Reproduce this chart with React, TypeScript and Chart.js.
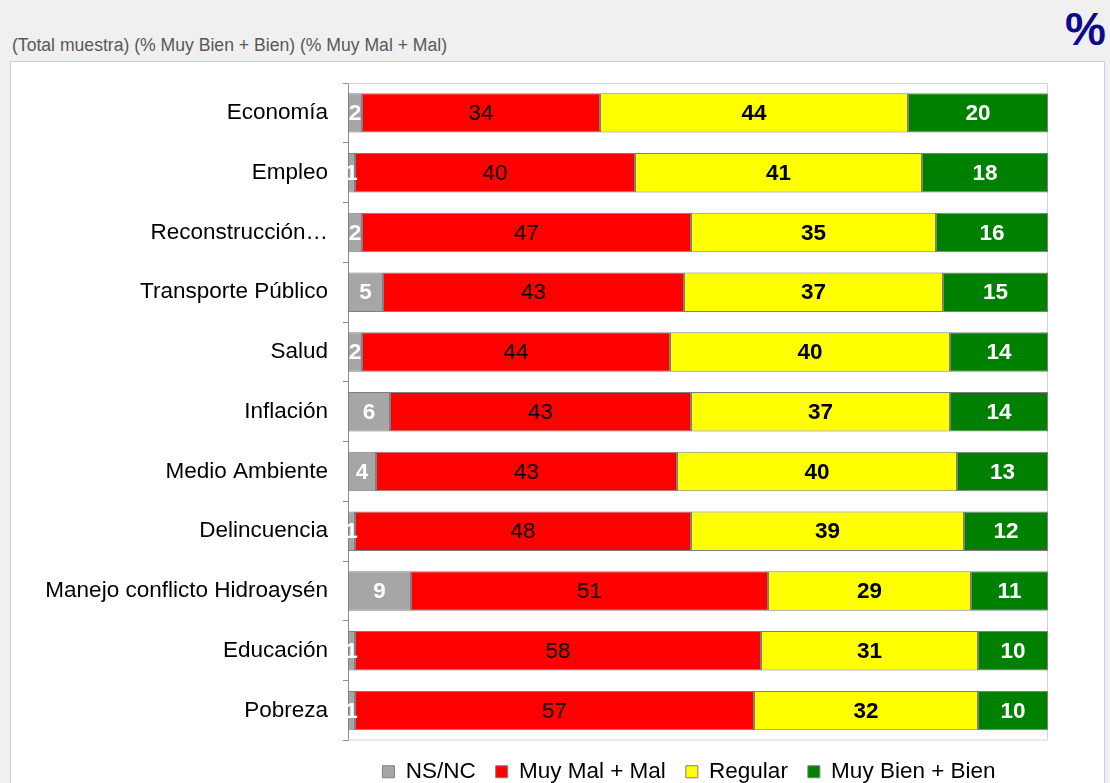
import React, { useEffect, useRef } from 'react';
import { Chart, registerables } from 'chart.js';

Chart.register(...registerables);

const categories = [
  'Economía',
  'Empleo',
  'Reconstrucción…',
  'Transporte Público',
  'Salud',
  'Inflación',
  'Medio Ambiente',
  'Delincuencia',
  'Manejo conflicto Hidroaysén',
  'Educación',
  'Pobreza',
];
const seriesNames = ['NS/NC', 'Muy Mal + Mal', 'Regular', 'Muy Bien + Bien'];
const nsnc = [2, 1, 2, 5, 2, 6, 4, 1, 9, 1, 1];
const muyMal = [34, 40, 47, 43, 44, 43, 43, 48, 51, 58, 57];
const regular = [44, 41, 35, 37, 40, 37, 40, 39, 29, 31, 32];
const muyBien = [20, 18, 16, 15, 14, 14, 13, 12, 11, 10, 10];

const FONT = '"Liberation Sans", Arial, Helvetica, sans-serif';
const FS = 22.5;

const fills = ['#a6a6a6', '#ff0000', '#ffff00', '#008000'];
const labelStyles = [
  { color: '#ffffff', weight: 'bold' },
  { color: '#000000', weight: 'normal' },
  { color: '#000000', weight: 'bold' },
  { color: '#ffffff', weight: 'bold' },
];

const valueLabels = {
  id: 'valueLabels',
  afterDatasetsDraw(chart: any) {
    const ctx = chart.ctx;
    chart.data.datasets.forEach((ds: any, i: number) => {
      const meta = chart.getDatasetMeta(i);
      if (meta.hidden) return;
      const st = labelStyles[i];
      ctx.save();
      ctx.font = `${st.weight} ${FS}px ${FONT}`;
      ctx.fillStyle = st.color;
      ctx.textAlign = 'center';
      ctx.textBaseline = 'middle';
      meta.data.forEach((el: any, j: number) => {
        const p = el.getProps(['x', 'base', 'y'], true);
        ctx.fillText(String(ds.data[j]), (p.x + p.base) / 2, p.y + 1);
      });
      ctx.restore();
    });
  },
};

const frame = {
  id: 'frame',
  beforeDatasetsDraw(chart: any) {
    const { left, top, right, bottom } = chart.chartArea;
    const ctx = chart.ctx;
    ctx.save();
    ctx.strokeStyle = '#d4d4d4';
    ctx.lineWidth = 1;
    ctx.beginPath();
    ctx.moveTo(left, top + 0.5);
    ctx.lineTo(right - 0.5, top + 0.5);
    ctx.lineTo(right - 0.5, bottom - 0.5);
    ctx.lineTo(left, bottom - 0.5);
    ctx.stroke();
    ctx.restore();
  },
};

// Centre the legend under the plot area rather than the whole canvas.
const legendUnderPlot = {
  id: 'legendUnderPlot',
  afterLayout(chart: any) {
    const lg = chart.legend;
    if (!lg) return;
    lg.left = chart.chartArea.left - 18;
    lg.right = chart.chartArea.right;
  },
};

export default function App() {
  const ref = useRef<HTMLCanvasElement | null>(null);

  useEffect(() => {
    if (!ref.current) return;
    const series = [nsnc, muyMal, regular, muyBien];
    const chart = new Chart(ref.current, {
      type: 'bar',
      data: {
        labels: categories,
        datasets: series.map((d, i) => ({
          label: seriesNames[i],
          data: d,
          backgroundColor: fills[i],
          borderColor: '#808080',
          borderWidth: 1,
          borderSkipped: false,
          categoryPercentage: 1,
          barPercentage: 0.66,
        })),
      },
      options: {
        indexAxis: 'y',
        responsive: false,
        animation: false,
        devicePixelRatio: 1,
        layout: { padding: { left: 10, right: 62, top: 83, bottom: 0 } },
        scales: {
          x: {
            stacked: true,
            min: 0,
            max: 100,
            display: false,
          },
          y: {
            stacked: true,
            afterFit: (scale: any) => {
              scale.width = 338;
            },
            grid: {
              display: true,
              drawOnChartArea: false,
              drawTicks: true,
              tickLength: 5,
              color: '#8c8c8c',
              offset: true,
            },
            border: { display: true, color: '#8c8c8c', width: 1 },
            ticks: {
              color: '#000000',
              padding: 15,
              font: { family: FONT, size: FS },
            },
          },
        },
        plugins: {
          legend: {
            position: 'bottom',
            labels: {
              boxWidth: 12,
              boxHeight: 12,
              padding: 20,
              color: '#000000',
              font: { family: FONT, size: FS },
            },
          },
          tooltip: { enabled: false },
          title: { display: false },
        },
      },
      plugins: [frame, valueLabels, legendUnderPlot],
    } as any);
    return () => chart.destroy();
  }, []);

  return (
    <div
      style={{
        position: 'fixed',
        left: 0,
        top: 0,
        width: 1110,
        height: 783,
        overflow: 'hidden',
        background: '#f0f0f0',
        fontFamily: FONT,
      }}
    >
      <div
        style={{
          position: 'absolute',
          left: 12,
          top: 37,
          fontSize: 17.6,
          lineHeight: 1,
          color: '#595959',
          whiteSpace: 'nowrap',
        }}
      >
        (Total muestra) (% Muy Bien + Bien) (% Muy Mal + Mal)
      </div>
      <div
        style={{
          position: 'absolute',
          right: 4,
          top: 6,
          fontSize: 46,
          lineHeight: 1,
          fontWeight: 'bold',
          color: '#0c0c8a',
        }}
      >
        %
      </div>
      <div
        style={{
          position: 'absolute',
          left: 10,
          top: 61,
          width: 1095,
          height: 800,
          border: '1px solid #c4cdf6',
          background: '#ffffff',
          boxSizing: 'border-box',
        }}
      />
      <canvas
        ref={ref}
        width={1110}
        height={793}
        style={{ position: 'absolute', left: 0, top: 0, width: 1110, height: 793 }}
      />
    </div>
  );
}
